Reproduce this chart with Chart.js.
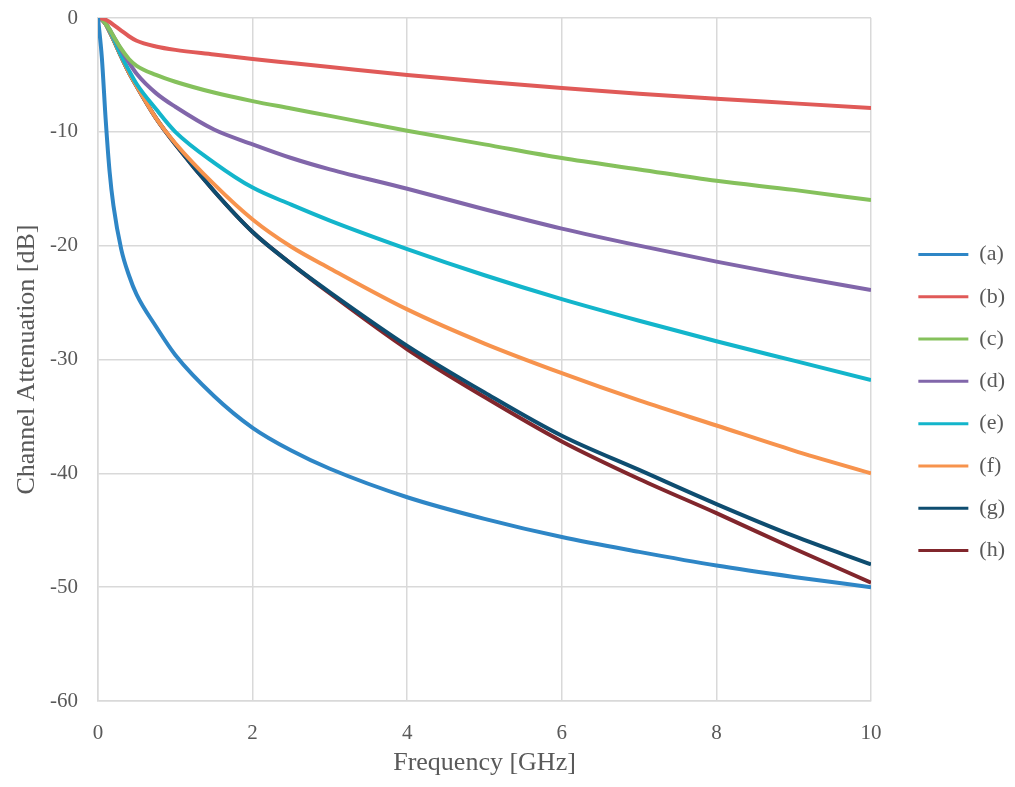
<!DOCTYPE html>
<html>
<head>
<meta charset="utf-8">
<script src="https://cdn.jsdelivr.net/npm/chart.js@4/dist/chart.umd.min.js"></script>
<style>
  html, body { margin: 0; padding: 0; background: #fff; }
  #wrap { width: 1015px; height: 787px; }
</style>
</head>
<body>
<div id="wrap"><canvas id="myChart" width="1015" height="787"></canvas></div>
<script>
// frequency points [GHz]
var freq = [0, 0.05, 0.1, 0.15, 0.2, 0.3, 0.4, 0.5, 0.75, 1, 1.5, 2, 2.5, 3, 4, 5, 6, 7, 8, 9, 10];

// channel attenuation [dB] for each case
var serA = [0, -3.5, -9.0, -13.5, -16.5, -20.3, -22.6, -24.3, -27.1, -29.6, -33.2, -36.0, -38.0, -39.6, -42.1, -44.0, -45.6, -46.9, -48.1, -49.1, -50.0];
var serB = [0, -0.05, -0.15, -0.35, -0.6, -1.1, -1.6, -2.0, -2.5, -2.8, -3.2, -3.6, -3.95, -4.3, -5.0, -5.6, -6.15, -6.65, -7.1, -7.5, -7.9];
var serC = [0, -0.1, -0.5, -1.0, -1.6, -2.7, -3.6, -4.2, -5.0, -5.6, -6.55, -7.3, -7.95, -8.6, -9.9, -11.1, -12.3, -13.3, -14.3, -15.1, -16.0];
var serD = [0, -0.1, -0.45, -1.0, -1.6, -2.8, -3.9, -4.9, -6.6, -7.8, -9.8, -11.1, -12.3, -13.3, -15.0, -16.8, -18.5, -20.0, -21.4, -22.7, -23.9];
var serE = [0, -0.1, -0.5, -1.1, -1.8, -3.3, -4.6, -5.8, -8.0, -10.0, -12.7, -14.9, -16.4, -17.8, -20.3, -22.6, -24.7, -26.6, -28.4, -30.1, -31.8];
var serF = [0, -0.15, -0.55, -1.2, -1.9, -3.4, -4.8, -6.0, -8.8, -11.0, -14.6, -17.7, -20.1, -22.0, -25.6, -28.6, -31.2, -33.6, -35.8, -38.0, -40.0];
var serG = [0, -0.15, -0.55, -1.2, -1.9, -3.4, -4.8, -6.0, -8.8, -11.1, -15.2, -18.8, -21.6, -24.1, -28.8, -32.9, -36.7, -39.7, -42.7, -45.5, -48.0];
var serH = [0, -0.15, -0.55, -1.2, -1.9, -3.4, -4.8, -6.0, -8.8, -11.1, -15.2, -18.8, -21.6, -24.2, -29.1, -33.3, -37.2, -40.5, -43.5, -46.6, -49.6];

var names = ['(a)', '(b)', '(c)', '(d)', '(e)', '(f)', '(g)', '(h)'];
var series = [serA, serB, serC, serD, serE, serF, serG, serH];
var colors = ['#2e86c6', '#e05a58', '#85c15c', '#8166aa', '#13b5cb', '#f7934d', '#0e4d70', '#81262c'];

var txtColor = '#595959';
var serif = "'Liberation Serif', 'Times New Roman', serif";

function toPoints(ys) {
  return freq.map(function (f, i) { return {x: f, y: ys[i]}; });
}

var ctx = document.getElementById('myChart').getContext('2d');
var chart = new Chart(ctx, {
  type: 'line',
  data: {
    datasets: series.map(function (s, i) {
      return {
        label: names[i],
        data: toPoints(s),
        borderColor: colors[i],
        backgroundColor: colors[i],
        borderWidth: 4,
        pointRadius: 0,
        cubicInterpolationMode: 'monotone',
        fill: false
      };
    })
  },
  options: {
    responsive: false,
    animation: false,
    layout: {padding: {top: 18}},
    plugins: {
      tooltip: {enabled: false},
      legend: {
        position: 'right',
        labels: {
          color: txtColor,
          font: {family: serif, size: 22},
          boxWidth: 50,
          boxHeight: 3,
          padding: 20.3,
          generateLabels: function (c) {
            return c.data.datasets.map(function (ds, i) {
              return {
                text: ds.label,
                fillStyle: ds.borderColor,
                strokeStyle: ds.borderColor,
                lineWidth: 0,
                fontColor: txtColor,
                datasetIndex: i
              };
            });
          }
        }
      }
    },
    scales: {
      x: {
        type: 'linear',
        min: 0,
        max: 10,
        ticks: {stepSize: 2, color: txtColor, font: {family: serif, size: 21}, padding: 20},
        grid: {color: '#d9d9d9', lineWidth: 1.5, drawTicks: false},
        border: {color: '#d9d9d9', width: 1.5},
        title: {display: true, text: 'Frequency [GHz]', color: txtColor, font: {family: serif, size: 26}, padding: {bottom: 8}},
        afterFit: function (s) { s.height = 86; s.paddingLeft = 0; s.paddingRight = 0; }
      },
      y: {
        min: -60,
        max: 0,
        ticks: {stepSize: 10, color: txtColor, font: {family: serif, size: 21}, padding: 20},
        grid: {color: '#d9d9d9', lineWidth: 1.5, drawTicks: false},
        border: {color: '#d9d9d9', width: 1.5},
        title: {display: true, text: 'Channel Attenuation [dB]', color: txtColor, font: {family: serif, size: 26}, padding: {top: 12}},
        afterFit: function (s) { s.width = 98; s.paddingTop = 0; s.paddingBottom = 0; }
      },
      gap: {
        position: 'right',
        display: true,
        ticks: {display: false},
        grid: {display: false},
        border: {display: false},
        afterFit: function (s) { s.width = 27; s.paddingTop = 0; s.paddingBottom = 0; }
      }
    }
  }
});
</script>
</body>
</html>
